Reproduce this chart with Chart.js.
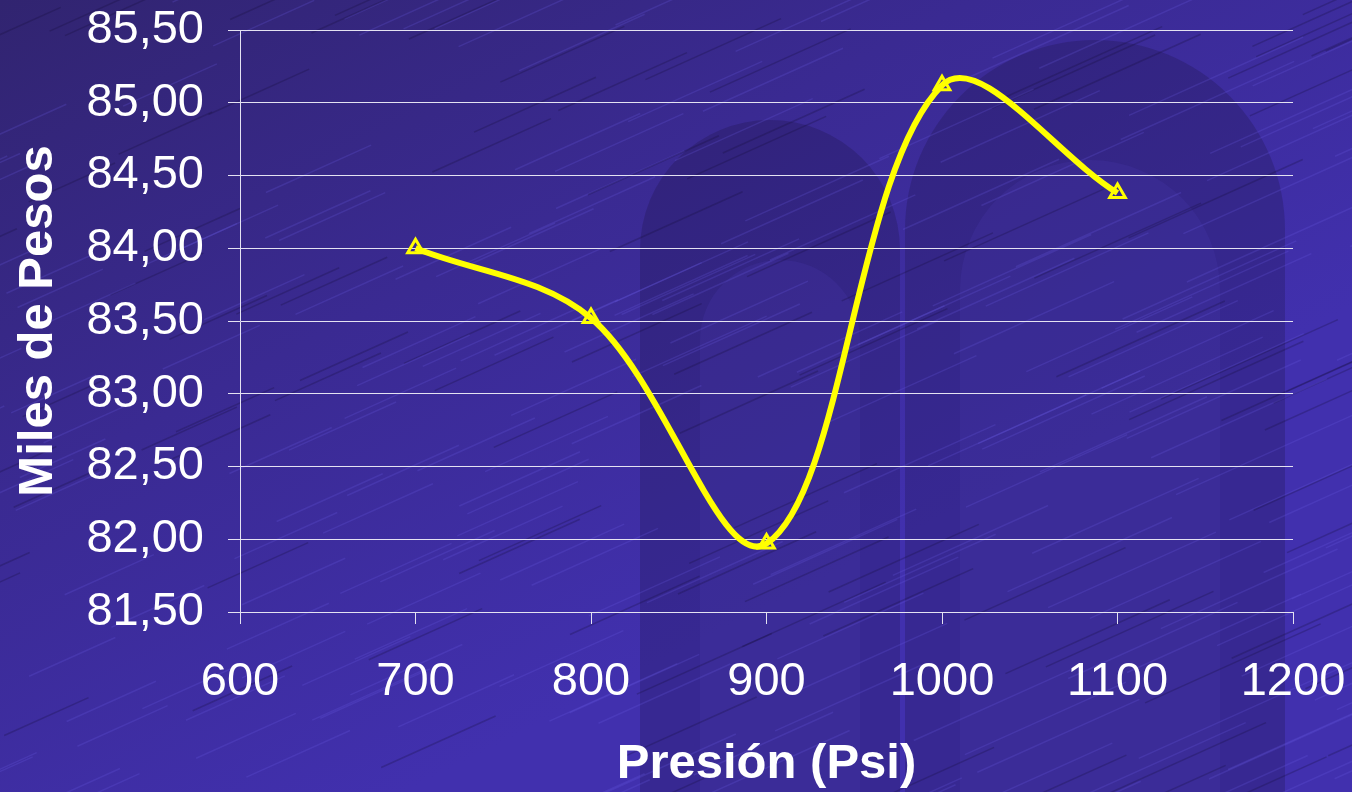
<!DOCTYPE html>
<html>
<head>
<meta charset="utf-8">
<script src="https://cdn.jsdelivr.net/npm/chart.js@4.4.0/dist/chart.umd.min.js"></script>
<style>
  html, body { margin: 0; padding: 0; background: #3a2a8c; }
  #wrap { width: 1352px; height: 792px; position: relative; }
</style>
</head>
<body>
<div id="wrap"><canvas id="chart" width="1352" height="792"></canvas></div>
<script>
// values
const presion = [700, 800, 900, 1000, 1100];
const miles = [84.00, 83.52, 81.97, 85.12, 84.38];
const xTicks = [600, 700, 800, 900, 1000, 1100, 1200];
const yTicks = [81.5, 82, 82.5, 83, 83.5, 84, 84.5, 85, 85.5];

const fmtY = v => v.toFixed(2).replace('.', ',');

// textured purple backdrop, drawn behind everything
const backdrop = {
    id: 'backdrop',
    beforeDraw(chart) {
        const ctx = chart.ctx;
        const w = chart.width, h = chart.height;
        ctx.save();
        const g = ctx.createLinearGradient(0, 0, w * 0.3, h);
        g.addColorStop(0, '#312470');
        g.addColorStop(0.5, '#3a2a92');
        g.addColorStop(1, '#4130ae');
        ctx.fillStyle = g;
        ctx.fillRect(0, 0, w, h);

        // faint arches
        ctx.fillStyle = 'rgba(25,15,60,0.24)';
        const arch = (x, y, aw) => {
            ctx.beginPath();
            ctx.moveTo(x, h);
            ctx.lineTo(x, y + aw / 2);
            ctx.arc(x + aw / 2, y + aw / 2, aw / 2, Math.PI, 0);
            ctx.lineTo(x + aw, h);
            ctx.closePath();
            ctx.fill();
        };
        arch(640, 120, 260);
        arch(905, 40, 380);
        ctx.fillStyle = 'rgba(70,55,170,0.25)';
        arch(700, 260, 160);
        arch(960, 160, 260);

        // diagonal streaks
        ctx.lineWidth = 1.5;
        for (let i = 0; i < 420; i++) {
            const a = Math.sin(i * 12.9898) * 43758.5453;
            const r1 = a - Math.floor(a);
            const b = Math.sin(i * 78.233) * 12345.678;
            const r2 = b - Math.floor(b);
            const x0 = r1 * (w + 400) - 300;
            const y0 = r2 * (h + 200);
            const len = 60 + r1 * 140;
            ctx.strokeStyle = i % 3 === 0 ? 'rgba(20,10,50,0.25)' : 'rgba(110,95,230,0.22)';
            ctx.beginPath();
            ctx.moveTo(x0, y0);
            ctx.lineTo(x0 + len, y0 - len * 0.45);
            ctx.stroke();
        }
        ctx.restore();
    }
};

new Chart(document.getElementById('chart'), {
    type: 'scatter',
    data: {
        datasets: [{
            data: presion.map((x, i) => ({ x: x, y: miles[i] })),
            showLine: true,
            borderColor: '#ffff00',
            borderWidth: 6,
            tension: 0.35,
            pointStyle: 'triangle',
            pointRadius: 9,
            pointBorderWidth: 3,
            pointBorderColor: '#ffff00',
            pointBackgroundColor: 'rgba(0,0,0,0)'
        }]
    },
    options: {
        responsive: false,
        animation: false,
        layout: { padding: { top: 30, right: 59, left: 0, bottom: 0 } },
        plugins: { legend: { display: false }, tooltip: { enabled: false } },
        scales: {
            x: {
                min: 600, max: 1200,
                afterBuildTicks: s => { s.ticks = xTicks.map(v => ({ value: v })); },
                afterFit: s => { s.height = 180; s.paddingLeft = 0; s.paddingRight = 0; },
                ticks: {
                    color: '#ffffff',
                    font: { family: 'Liberation Sans', size: 47 },
                    padding: 30,
                    maxRotation: 0,
                    callback: v => String(v)
                },
                grid: { drawOnChartArea: false, color: '#e4e2f2', tickLength: 12, lineWidth: 1 },
                border: { color: '#e4e2f2', width: 1 },
                title: {
                    display: true,
                    text: 'Presión (Psi)',
                    color: '#ffffff',
                    font: { family: 'Liberation Sans', size: 49, weight: 'bold', lineHeight: 1 },
                    padding: { top: 10, bottom: 3 }
                }
            },
            y: {
                min: 81.5, max: 85.5,
                afterBuildTicks: s => { s.ticks = yTicks.map(v => ({ value: v })); },
                afterFit: s => { s.width = 240; s.paddingTop = 0; s.paddingBottom = 0; },
                ticks: {
                    color: '#ffffff',
                    font: { family: 'Liberation Sans', size: 47 },
                    padding: 24,
                    callback: v => fmtY(v)
                },
                grid: { color: '#e4e2f2', tickLength: 12, lineWidth: 1 },
                border: { color: '#e4e2f2', width: 1 },
                title: {
                    display: true,
                    text: 'Miles de Pesos',
                    color: '#ffffff',
                    font: { family: 'Liberation Sans', size: 49, weight: 'bold', lineHeight: 1 },
                    padding: { top: 14, bottom: 10 }
                }
            }
        }
    },
    plugins: [backdrop]
});
</script>
</body>
</html>
